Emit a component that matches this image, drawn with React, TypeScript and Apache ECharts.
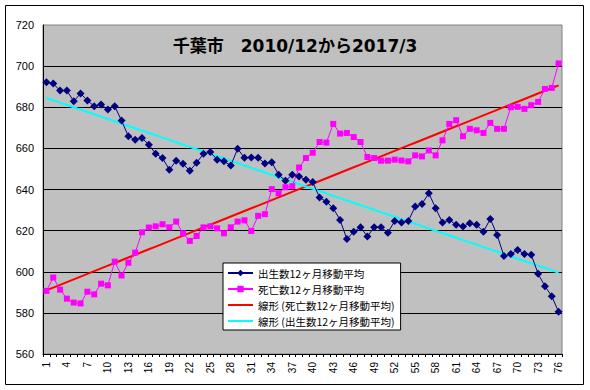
import React, { useEffect, useRef } from "react";
import * as echarts from "echarts";

const months: string[] = Array.from({ length: 76 }, (_, i) => String(i + 1));

const births: number[] = [
  692.2, 691.5, 688.1, 688.1, 682.9, 686.7, 683.3, 680.5, 681.3, 678.9,
  680.5, 673.5, 665.9, 664.2, 665.0, 661.8, 657.4, 655.3, 649.6, 654.0,
  652.5, 649.1, 653.0, 657.4, 658.2, 654.5, 653.7, 651.7, 659.8, 655.4,
  655.6, 655.4, 652.7, 653.2, 647.2, 644.2, 647.2, 646.3, 644.7, 643.6,
  636.1, 634.1, 630.9, 625.2, 615.9, 619.5, 621.6, 617.2, 621.6, 621.6,
  619.0, 624.7, 623.9, 624.7, 631.7, 633.0, 638.2, 630.9, 623.9, 625.2,
  622.8, 622.0, 623.6, 622.8, 619.5, 625.7, 617.9, 607.6, 608.6, 610.6,
  608.6, 608.3, 599.0, 593.0, 588.1, 580.5,
];

const deaths: number[] = [
  590.7, 597.2, 591.3, 586.9, 585.0, 584.6, 590.3, 589.0, 594.2, 593.4,
  604.9, 598.2, 604.4, 609.3, 619.2, 621.5, 622.1, 623.1, 621.6, 624.4,
  618.7, 615.0, 617.4, 621.6, 622.1, 621.1, 618.7, 621.6, 624.4, 625.0,
  619.8, 627.2, 628.0, 640.2, 638.2, 641.1, 641.6, 650.7, 655.3, 657.9,
  663.1, 662.8, 671.9, 667.2, 667.5, 665.5, 663.1, 655.8, 655.3, 654.0,
  654.0, 654.5, 654.1, 653.7, 656.6, 656.1, 659.0, 656.6, 663.9, 671.9,
  673.7, 665.9, 669.5, 668.8, 667.5, 672.4, 669.5, 669.5, 680.0, 680.2,
  679.2, 681.0, 682.6, 688.9, 689.4, 701.3,
];

const yMin = 560;
const yMax = 720;
const yStep = 20;

const titleText = "千葉市　2010/12から2017/3";
const birthName = "出生数12ヶ月移動平均";
const deathName = "死亡数12ヶ月移動平均";
const deathTrendName = "線形 (死亡数12ヶ月移動平均)";
const birthTrendName = "線形 (出生数12ヶ月移動平均)";

// Excel-style linear trendline (least squares over x = 1..n)
function linearTrend(values: number[]): number[] {
  const n = values.length;
  let sx = 0, sy = 0, sxx = 0, sxy = 0;
  values.forEach((v, i) => {
    const x = i + 1;
    sx += x; sy += v; sxx += x * x; sxy += x * v;
  });
  const b = (n * sxy - sx * sy) / (n * sxx - sx * sx);
  const a = (sy - b * sx) / n;
  return values.map((_, i) => a + b * (i + 1));
}

const lineIcon = "path://M0,0 L25,0 L25,2 L0,2 Z";

export default function App() {
  const ref = useRef<HTMLDivElement>(null);
  useEffect(() => {
    if (!ref.current) return;
    const chart = echarts.init(ref.current, null, { renderer: "svg" });
    const labelFont = "'Liberation Sans', Arial, sans-serif";
    const cjkFont = "'Noto Sans CJK JP', sans-serif";
    chart.setOption({
      animation: false,
      backgroundColor: "#ffffff",
      title: {
        text: titleText,
        left: "center",
        top: 32,
        textStyle: {
          fontSize: 17,
          fontWeight: "bold",
          color: "#000",
          fontFamily: "'DejaVu Sans', 'Noto Sans CJK JP', sans-serif",
        },
      },
      graphic: [
        {
          type: "rect",
          shape: { x: 5.5, y: 5.5, width: 578, height: 379 },
          style: { fill: "none", stroke: "#000", lineWidth: 1 },
          silent: true,
          z: -1,
        },
      ],
      grid: {
        left: 43,
        top: 25,
        right: 28,
        bottom: 36,
        show: true,
        backgroundColor: "#c0c0c0",
        borderColor: "#808080",
        borderWidth: 1,
      },
      legend: {
        orient: "vertical",
        left: 223,
        top: 263,
        backgroundColor: "#ffffff",
        borderColor: "#000",
        borderWidth: 1,
        padding: [4, 6, 3, 4],
        itemWidth: 25,
        itemHeight: 8,
        itemGap: 4,
        textStyle: { fontSize: 10.5, color: "#000", fontFamily: cjkFont, lineHeight: 12 },
        data: [
          { name: birthName },
          { name: deathName },
          { name: deathTrendName, icon: lineIcon },
          { name: birthTrendName, icon: lineIcon },
        ],
      },
      xAxis: {
        type: "category",
        data: months,
        boundaryGap: true,
        axisLine: { show: true, lineStyle: { color: "#000", width: 1 } },
        axisTick: { show: true, interval: 0, length: 3, lineStyle: { color: "#000" } },
        axisLabel: {
          interval: 2,
          rotate: 90,
          fontSize: 10,
          color: "#000",
          margin: 8,
          fontFamily: labelFont,
        },
        splitLine: { show: false },
      },
      yAxis: {
        type: "value",
        min: yMin,
        max: yMax,
        interval: yStep,
        axisLine: { show: true, lineStyle: { color: "#000", width: 1 } },
        axisTick: { show: false },
        axisLabel: { fontSize: 11, color: "#000", margin: 9, fontFamily: labelFont },
        splitLine: {
          show: true,
          showMinLine: false,
          showMaxLine: false,
          lineStyle: { color: "#000", width: 1 },
        },
      },
      series: [
        {
          name: birthName,
          type: "line",
          data: births,
          symbol: "diamond",
          symbolSize: 8,
          showAllSymbol: true,
          itemStyle: { color: "#000080" },
          lineStyle: { color: "#000080", width: 1 },
          z: 4,
        },
        {
          name: deathName,
          type: "line",
          data: deaths,
          symbol: "rect",
          symbolSize: 6,
          showAllSymbol: true,
          itemStyle: { color: "#ff00ff" },
          lineStyle: { color: "#ff00ff", width: 1 },
          z: 4,
        },
        {
          name: deathTrendName,
          type: "line",
          data: linearTrend(deaths),
          symbol: "none",
          itemStyle: { color: "#ff0000" },
          lineStyle: { color: "#ff0000", width: 2 },
          z: 3,
        },
        {
          name: birthTrendName,
          type: "line",
          data: linearTrend(births),
          symbol: "none",
          itemStyle: { color: "#00ffff" },
          lineStyle: { color: "#00ffff", width: 2 },
          z: 3,
        },
      ],
    });
    return () => chart.dispose();
  }, []);
  return (
    <div
      ref={ref}
      style={{ position: "fixed", left: 0, top: 0, width: 590, height: 390, background: "#fff" }}
    />
  );
}
